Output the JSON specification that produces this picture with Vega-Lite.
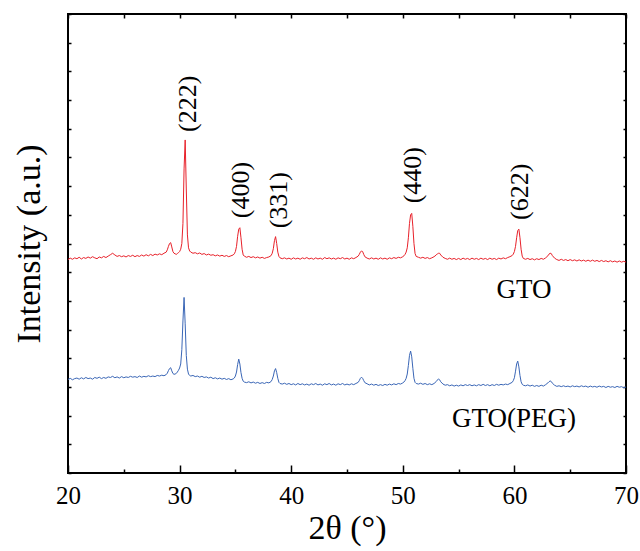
{
"$schema": "https://vega.github.io/schema/vega-lite/v6.json",
"width": 558, "height": 459,
"autosize": "none",
"padding": {"left": 68, "top": 14, "right": 14, "bottom": 78},
"background": "white",
"config": {"view": {"stroke": "black", "strokeWidth": 2}, "font": "Liberation Serif", "text": {"font": "Liberation Serif"}, "axis": {"domain": false, "grid": false, "tickColor": "black", "tickWidth": 1.5, "labelColor": "black", "titleColor": "black", "titleFontWeight": "normal", "labelFont": "Liberation Serif", "titleFont": "Liberation Serif", "labelFlush": false}},
"data": {"values": [
{"x":20.0,"gto":7.44,"peg":3.26},{"x":20.2,"gto":7.49,"peg":3.30},{"x":20.4,"gto":7.45,"peg":3.25},{"x":20.6,"gto":7.50,"peg":3.29},{"x":20.8,"gto":7.47,"peg":3.31},
{"x":21.0,"gto":7.52,"peg":3.27},{"x":21.2,"gto":7.46,"peg":3.32},{"x":21.4,"gto":7.51,"peg":3.28},{"x":21.6,"gto":7.48,"peg":3.33},{"x":21.8,"gto":7.53,"peg":3.29},
{"x":22.0,"gto":7.49,"peg":3.31},{"x":22.2,"gto":7.54,"peg":3.27},{"x":22.4,"gto":7.50,"peg":3.33},{"x":22.6,"gto":7.47,"peg":3.30},{"x":22.8,"gto":7.53,"peg":3.34},
{"x":23.0,"gto":7.50,"peg":3.29},{"x":23.2,"gto":7.55,"peg":3.33},{"x":23.4,"gto":7.51,"peg":3.30},{"x":23.6,"gto":7.56,"peg":3.35},{"x":23.8,"gto":7.61,"peg":3.33},
{"x":24.0,"gto":7.66,"peg":3.37},{"x":24.2,"gto":7.60,"peg":3.32},{"x":24.4,"gto":7.55,"peg":3.35},{"x":24.6,"gto":7.58,"peg":3.31},{"x":24.8,"gto":7.54,"peg":3.36},
{"x":25.0,"gto":7.57,"peg":3.32},{"x":25.2,"gto":7.53,"peg":3.35},{"x":25.4,"gto":7.58,"peg":3.33},{"x":25.6,"gto":7.55,"peg":3.37},{"x":25.8,"gto":7.59,"peg":3.34},
{"x":26.0,"gto":7.54,"peg":3.36},{"x":26.2,"gto":7.58,"peg":3.33},{"x":26.4,"gto":7.55,"peg":3.38},{"x":26.6,"gto":7.60,"peg":3.34},{"x":26.8,"gto":7.56,"peg":3.37},
{"x":27.0,"gto":7.61,"peg":3.35},{"x":27.2,"gto":7.57,"peg":3.39},{"x":27.4,"gto":7.62,"peg":3.36},{"x":27.6,"gto":7.58,"peg":3.38},{"x":27.8,"gto":7.63,"peg":3.36},
{"x":28.0,"gto":7.60,"peg":3.40},{"x":28.2,"gto":7.64,"peg":3.38},{"x":28.4,"gto":7.61,"peg":3.41},{"x":28.6,"gto":7.66,"peg":3.39},{"x":28.8,"gto":7.70,"peg":3.43},
{"x":28.9,"gto":7.78,"peg":3.48},{"x":29.0,"gto":7.90,"peg":3.57},{"x":29.1,"gto":8.00,"peg":3.64},{"x":29.2,"gto":8.03,"peg":3.67},{"x":29.3,"gto":7.88,"peg":3.56},
{"x":29.4,"gto":7.72,"peg":3.47},{"x":29.5,"gto":7.66,"peg":3.44},{"x":29.6,"gto":7.64,"peg":3.45},{"x":29.7,"gto":7.62,"peg":3.47},{"x":29.8,"gto":7.65,"peg":3.52},
{"x":29.9,"gto":7.68,"peg":3.58},{"x":30.0,"gto":7.72,"peg":3.66},{"x":30.1,"gto":7.80,"peg":3.80},{"x":30.2,"gto":8.00,"peg":4.30},{"x":30.3,"gto":8.70,"peg":5.30},
{"x":30.4,"gto":10.60,"peg":6.12},{"x":30.5,"gto":11.61,"peg":5.20},{"x":30.6,"gto":9.90,"peg":4.10},{"x":30.7,"gto":8.30,"peg":3.62},{"x":30.8,"gto":7.85,"peg":3.45},
{"x":30.9,"gto":7.74,"peg":3.40},{"x":31.0,"gto":7.70,"peg":3.38},{"x":31.2,"gto":7.66,"peg":3.40},{"x":31.4,"gto":7.68,"peg":3.36},{"x":31.6,"gto":7.64,"peg":3.38},
{"x":31.8,"gto":7.67,"peg":3.34},{"x":32.0,"gto":7.62,"peg":3.37},{"x":32.2,"gto":7.65,"peg":3.33},{"x":32.4,"gto":7.60,"peg":3.35},{"x":32.6,"gto":7.63,"peg":3.31},
{"x":32.8,"gto":7.59,"peg":3.34},{"x":33.0,"gto":7.61,"peg":3.29},{"x":33.2,"gto":7.57,"peg":3.32},{"x":33.4,"gto":7.60,"peg":3.28},{"x":33.6,"gto":7.56,"peg":3.31},
{"x":33.8,"gto":7.59,"peg":3.27},{"x":34.0,"gto":7.55,"peg":3.30},{"x":34.2,"gto":7.58,"peg":3.26},{"x":34.4,"gto":7.54,"peg":3.29},{"x":34.6,"gto":7.57,"peg":3.25},
{"x":34.8,"gto":7.60,"peg":3.28},{"x":34.9,"gto":7.64,"peg":3.31},{"x":35.0,"gto":7.72,"peg":3.38},{"x":35.1,"gto":7.90,"peg":3.52},{"x":35.2,"gto":8.25,"peg":3.78},
{"x":35.3,"gto":8.50,"peg":3.97},{"x":35.4,"gto":8.55,"peg":3.80},{"x":35.5,"gto":8.20,"peg":3.50},{"x":35.6,"gto":7.80,"peg":3.30},{"x":35.7,"gto":7.60,"peg":3.20},
{"x":35.8,"gto":7.56,"peg":3.17},{"x":36.0,"gto":7.52,"peg":3.15},{"x":36.2,"gto":7.55,"peg":3.18},{"x":36.4,"gto":7.51,"peg":3.14},{"x":36.6,"gto":7.54,"peg":3.17},
{"x":36.8,"gto":7.50,"peg":3.13},{"x":37.0,"gto":7.53,"peg":3.16},{"x":37.2,"gto":7.49,"peg":3.12},{"x":37.4,"gto":7.52,"peg":3.15},{"x":37.6,"gto":7.48,"peg":3.12},
{"x":37.8,"gto":7.51,"peg":3.16},{"x":38.0,"gto":7.53,"peg":3.14},{"x":38.2,"gto":7.58,"peg":3.19},{"x":38.3,"gto":7.66,"peg":3.26},{"x":38.4,"gto":7.82,"peg":3.38},
{"x":38.5,"gto":8.10,"peg":3.56},{"x":38.6,"gto":8.24,"peg":3.64},{"x":38.7,"gto":8.00,"peg":3.50},{"x":38.8,"gto":7.70,"peg":3.30},{"x":38.9,"gto":7.55,"peg":3.16},
{"x":39.0,"gto":7.50,"peg":3.12},{"x":39.2,"gto":7.47,"peg":3.10},{"x":39.4,"gto":7.50,"peg":3.13},{"x":39.6,"gto":7.46,"peg":3.09},{"x":39.8,"gto":7.49,"peg":3.12},
{"x":40.0,"gto":7.45,"peg":3.08},{"x":40.2,"gto":7.50,"peg":3.11},{"x":40.4,"gto":7.46,"peg":3.07},{"x":40.6,"gto":7.49,"peg":3.12},{"x":40.8,"gto":7.45,"peg":3.08},
{"x":41.0,"gto":7.50,"peg":3.11},{"x":41.2,"gto":7.47,"peg":3.07},{"x":41.4,"gto":7.51,"peg":3.10},{"x":41.6,"gto":7.46,"peg":3.06},{"x":41.8,"gto":7.49,"peg":3.11},
{"x":42.0,"gto":7.45,"peg":3.08},{"x":42.2,"gto":7.50,"peg":3.12},{"x":42.4,"gto":7.46,"peg":3.07},{"x":42.6,"gto":7.49,"peg":3.10},{"x":42.8,"gto":7.45,"peg":3.06},
{"x":43.0,"gto":7.51,"peg":3.11},{"x":43.2,"gto":7.47,"peg":3.08},{"x":43.4,"gto":7.50,"peg":3.12},{"x":43.6,"gto":7.46,"peg":3.07},{"x":43.8,"gto":7.49,"peg":3.10},
{"x":44.0,"gto":7.45,"peg":3.06},{"x":44.2,"gto":7.50,"peg":3.11},{"x":44.4,"gto":7.47,"peg":3.08},{"x":44.6,"gto":7.51,"peg":3.12},{"x":44.8,"gto":7.46,"peg":3.07},
{"x":45.0,"gto":7.49,"peg":3.10},{"x":45.2,"gto":7.45,"peg":3.07},{"x":45.4,"gto":7.50,"peg":3.11},{"x":45.6,"gto":7.47,"peg":3.08},{"x":45.8,"gto":7.51,"peg":3.12},
{"x":46.0,"gto":7.56,"peg":3.16},{"x":46.1,"gto":7.62,"peg":3.22},{"x":46.2,"gto":7.70,"peg":3.30},{"x":46.3,"gto":7.74,"peg":3.34},{"x":46.4,"gto":7.72,"peg":3.30},
{"x":46.5,"gto":7.62,"peg":3.22},{"x":46.6,"gto":7.54,"peg":3.15},{"x":46.8,"gto":7.49,"peg":3.11},{"x":47.0,"gto":7.46,"peg":3.07},{"x":47.2,"gto":7.50,"peg":3.10},
{"x":47.4,"gto":7.46,"peg":3.06},{"x":47.6,"gto":7.49,"peg":3.09},{"x":47.8,"gto":7.45,"peg":3.05},{"x":48.0,"gto":7.50,"peg":3.08},{"x":48.2,"gto":7.46,"peg":3.05},
{"x":48.4,"gto":7.49,"peg":3.09},{"x":48.6,"gto":7.45,"peg":3.06},{"x":48.8,"gto":7.50,"peg":3.10},{"x":49.0,"gto":7.47,"peg":3.07},{"x":49.2,"gto":7.51,"peg":3.11},
{"x":49.4,"gto":7.48,"peg":3.08},{"x":49.6,"gto":7.52,"peg":3.12},{"x":49.8,"gto":7.50,"peg":3.10},{"x":50.0,"gto":7.54,"peg":3.14},{"x":50.1,"gto":7.57,"peg":3.17},
{"x":50.2,"gto":7.62,"peg":3.22},{"x":50.3,"gto":7.70,"peg":3.30},{"x":50.4,"gto":7.85,"peg":3.45},{"x":50.5,"gto":8.20,"peg":3.75},{"x":50.6,"gto":8.70,"peg":4.10},
{"x":50.7,"gto":9.00,"peg":4.25},{"x":50.8,"gto":9.05,"peg":4.05},{"x":50.9,"gto":8.60,"peg":3.65},{"x":51.0,"gto":8.00,"peg":3.30},{"x":51.1,"gto":7.65,"peg":3.16},
{"x":51.2,"gto":7.55,"peg":3.12},{"x":51.4,"gto":7.52,"peg":3.10},{"x":51.6,"gto":7.49,"peg":3.13},{"x":51.8,"gto":7.52,"peg":3.09},{"x":52.0,"gto":7.48,"peg":3.12},
{"x":52.2,"gto":7.51,"peg":3.08},{"x":52.4,"gto":7.47,"peg":3.11},{"x":52.6,"gto":7.50,"peg":3.08},{"x":52.8,"gto":7.54,"peg":3.12},{"x":53.0,"gto":7.60,"peg":3.19},
{"x":53.1,"gto":7.64,"peg":3.24},{"x":53.2,"gto":7.66,"peg":3.28},{"x":53.3,"gto":7.66,"peg":3.25},{"x":53.4,"gto":7.60,"peg":3.18},{"x":53.6,"gto":7.52,"peg":3.10},
{"x":53.8,"gto":7.48,"peg":3.06},{"x":54.0,"gto":7.45,"peg":3.08},{"x":54.2,"gto":7.49,"peg":3.04},{"x":54.4,"gto":7.45,"peg":3.07},{"x":54.6,"gto":7.48,"peg":3.03},
{"x":54.8,"gto":7.44,"peg":3.06},{"x":55.0,"gto":7.48,"peg":3.03},{"x":55.2,"gto":7.44,"peg":3.07},{"x":55.4,"gto":7.49,"peg":3.04},{"x":55.6,"gto":7.45,"peg":3.08},
{"x":55.8,"gto":7.48,"peg":3.05},{"x":56.0,"gto":7.44,"peg":3.08},{"x":56.2,"gto":7.49,"peg":3.04},{"x":56.4,"gto":7.45,"peg":3.07},{"x":56.6,"gto":7.48,"peg":3.04},
{"x":56.8,"gto":7.44,"peg":3.08},{"x":57.0,"gto":7.49,"peg":3.05},{"x":57.2,"gto":7.45,"peg":3.09},{"x":57.4,"gto":7.48,"peg":3.05},{"x":57.6,"gto":7.44,"peg":3.08},
{"x":57.8,"gto":7.49,"peg":3.04},{"x":58.0,"gto":7.45,"peg":3.08},{"x":58.2,"gto":7.48,"peg":3.05},{"x":58.4,"gto":7.44,"peg":3.09},{"x":58.6,"gto":7.49,"peg":3.06},
{"x":58.8,"gto":7.46,"peg":3.09},{"x":59.0,"gto":7.50,"peg":3.07},{"x":59.2,"gto":7.47,"peg":3.10},{"x":59.4,"gto":7.51,"peg":3.08},{"x":59.6,"gto":7.54,"peg":3.12},
{"x":59.8,"gto":7.58,"peg":3.16},{"x":59.9,"gto":7.63,"peg":3.22},{"x":60.0,"gto":7.72,"peg":3.32},{"x":60.1,"gto":7.90,"peg":3.55},{"x":60.2,"gto":8.20,"peg":3.80},
{"x":60.3,"gto":8.45,"peg":3.90},{"x":60.4,"gto":8.50,"peg":3.70},{"x":60.5,"gto":8.20,"peg":3.40},{"x":60.6,"gto":7.80,"peg":3.18},{"x":60.7,"gto":7.56,"peg":3.09},
{"x":60.8,"gto":7.48,"peg":3.06},{"x":61.0,"gto":7.45,"peg":3.04},{"x":61.2,"gto":7.48,"peg":3.07},{"x":61.4,"gto":7.44,"peg":3.03},{"x":61.6,"gto":7.47,"peg":3.06},
{"x":61.8,"gto":7.43,"peg":3.02},{"x":62.0,"gto":7.47,"peg":3.05},{"x":62.2,"gto":7.44,"peg":3.02},{"x":62.4,"gto":7.48,"peg":3.06},{"x":62.6,"gto":7.45,"peg":3.03},
{"x":62.8,"gto":7.50,"peg":3.08},{"x":63.0,"gto":7.57,"peg":3.14},{"x":63.1,"gto":7.63,"peg":3.18},{"x":63.2,"gto":7.66,"peg":3.21},{"x":63.3,"gto":7.65,"peg":3.19},
{"x":63.4,"gto":7.58,"peg":3.13},{"x":63.6,"gto":7.49,"peg":3.06},{"x":63.8,"gto":7.44,"peg":3.02},{"x":64.0,"gto":7.41,"peg":3.04},{"x":64.2,"gto":7.45,"peg":3.01},
{"x":64.4,"gto":7.41,"peg":3.04},{"x":64.6,"gto":7.44,"peg":3.01},{"x":64.8,"gto":7.40,"peg":3.03},{"x":65.0,"gto":7.44,"peg":3.00},{"x":65.2,"gto":7.40,"peg":3.04},
{"x":65.4,"gto":7.43,"peg":3.01},{"x":65.6,"gto":7.39,"peg":3.03},{"x":65.8,"gto":7.43,"peg":3.00},{"x":66.0,"gto":7.39,"peg":3.04},{"x":66.2,"gto":7.42,"peg":3.01},
{"x":66.4,"gto":7.38,"peg":3.03},{"x":66.6,"gto":7.42,"peg":2.99},{"x":66.8,"gto":7.38,"peg":3.03},{"x":67.0,"gto":7.42,"peg":3.00},{"x":67.2,"gto":7.38,"peg":3.02},
{"x":67.4,"gto":7.41,"peg":2.99},{"x":67.6,"gto":7.37,"peg":3.03},{"x":67.8,"gto":7.41,"peg":3.00},{"x":68.0,"gto":7.37,"peg":3.02},{"x":68.2,"gto":7.40,"peg":2.98},
{"x":68.4,"gto":7.36,"peg":3.02},{"x":68.6,"gto":7.40,"peg":2.99},{"x":68.8,"gto":7.36,"peg":3.01},{"x":69.0,"gto":7.39,"peg":2.98},{"x":69.2,"gto":7.35,"peg":3.02},
{"x":69.4,"gto":7.39,"peg":2.99},{"x":69.6,"gto":7.35,"peg":3.01},{"x":69.8,"gto":7.38,"peg":2.97},{"x":70.0,"gto":7.35,"peg":3.00}
]},
"resolve": {"axis": {"x": "independent", "y": "independent"}},
"layer": [
{"mark": {"type": "line", "color": "#e8212a", "strokeWidth": 1},
 "encoding": {
  "x": {"field": "x", "type": "quantitative", "scale": {"domain": [20, 70], "nice": false, "zero": false},
        "axis": {"orient": "bottom", "values": [20, 30, 40, 50, 60, 70], "tickSize": -8, "labelPadding": 18, "labelFlush": false, "labelFont": "Liberation Serif", "labelFontSize": 25, "labelAngle": 0, "title": "2θ (°)", "titleFont": "Liberation Serif", "titleFontSize": 34, "titlePadding": 3}},
  "y": {"field": "gto", "type": "quantitative", "scale": {"domain": [0, 16], "nice": false},
        "axis": {"orient": "left", "values": [0,1,2,3,4,5,6,7,8,9,10,11,12,13,14,15,16], "tickSize": -3, "labels": false, "title": "Intensity (a.u.)", "titleFont": "Liberation Serif", "titleFontSize": 34, "titlePadding": 21}}
 }},
{"mark": {"type": "line", "color": "#3a66b6", "strokeWidth": 1},
 "encoding": {
  "x": {"field": "x", "type": "quantitative", "axis": {"orient": "bottom", "values": [25, 35, 45, 55, 65], "tickSize": -4, "labels": false, "title": null}},
  "y": {"field": "peg", "type": "quantitative", "axis": {"orient": "right", "values": [0,1,2,3,4,5,6,7,8,9,10,11,12,13,14,15,16], "tickSize": -3, "labels": false, "title": null}}
 }},
{"data": {"values": [
  {"px": 30.75, "py": 11.89, "label": "(222)"},
  {"px": 35.46, "py": 8.88, "label": "(400)"},
  {"px": 38.9, "py": 8.53, "label": "(331)"},
  {"px": 50.9, "py": 9.40, "label": "(440)"},
  {"px": 60.5, "py": 8.82, "label": "(622)"}
 ]},
 "mark": {"type": "text", "angle": 270, "align": "left", "baseline": "middle", "font": "Liberation Serif", "fontSize": 26, "color": "black"},
 "encoding": {
  "x": {"field": "px", "type": "quantitative", "axis": {"orient": "top", "values": [20,25,30,35,40,45,50,55,60,65,70], "tickSize": -4, "labels": false, "title": null}},
  "y": {"field": "py", "type": "quantitative", "axis": null},
  "text": {"field": "label"}
 }},
{"data": {"values": [
  {"px": 60.86, "py": 6.1, "label": "GTO"},
  {"px": 59.97, "py": 1.61, "label": "GTO(PEG)"}
 ]},
 "mark": {"type": "text", "align": "center", "baseline": "alphabetic", "font": "Liberation Serif", "fontSize": 27, "color": "black"},
 "encoding": {
  "x": {"field": "px", "type": "quantitative", "axis": null},
  "y": {"field": "py", "type": "quantitative", "axis": null},
  "text": {"field": "label"}
 }}
]
}
